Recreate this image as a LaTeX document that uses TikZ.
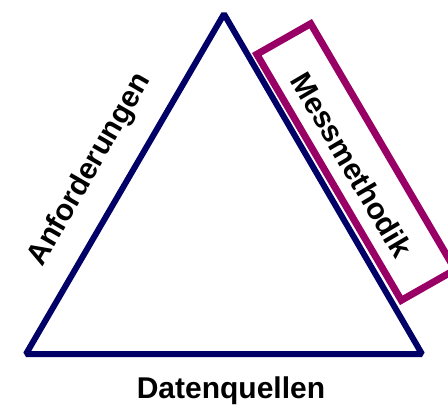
\documentclass[tikz,border=0pt]{standalone}
\usepackage{fontspec}
\setmainfont{Liberation Sans}
\definecolor{navy}{RGB}{0,0,102}
\definecolor{plum}{RGB}{153,0,102}
\tikzset{
  tri/.style={draw=navy, line width=6pt, line join=bevel},
  frame/.style={draw=plum, line width=7pt, line join=miter},
  lbl/.style={font=\fontsize{30}{36}\selectfont\bfseries, text=black, inner sep=0pt}
}
\begin{document}
\begin{tikzpicture}[x=1pt,y=-1pt]
\useasboundingbox (0,0) rectangle (448,405);
\clip (0,0) rectangle (448,405);
\coordinate (top) at (224,14);
\coordinate (bl) at (26,354);
\coordinate (br) at (422,354);
\coordinate (r1) at (256.8,54.3);
\coordinate (r2) at (310.7,23.7);
\coordinate (r3) at (455.2,269.7);
\coordinate (r4) at (401.3,300.3);
\draw[tri] (top) -- (bl) -- (br) -- cycle;
\draw[frame] (r1) -- (r2) -- (r3) -- (r4) -- cycle;
\node[lbl, rotate=60] (anf) at (90,170) {Anforderungen};
\node[lbl, rotate=-59.5] (mess) at (352,165) {Messmethodik};
\node[lbl, anchor=base] (daten) at (231,398) {Datenquellen};
\end{tikzpicture}
\end{document}
